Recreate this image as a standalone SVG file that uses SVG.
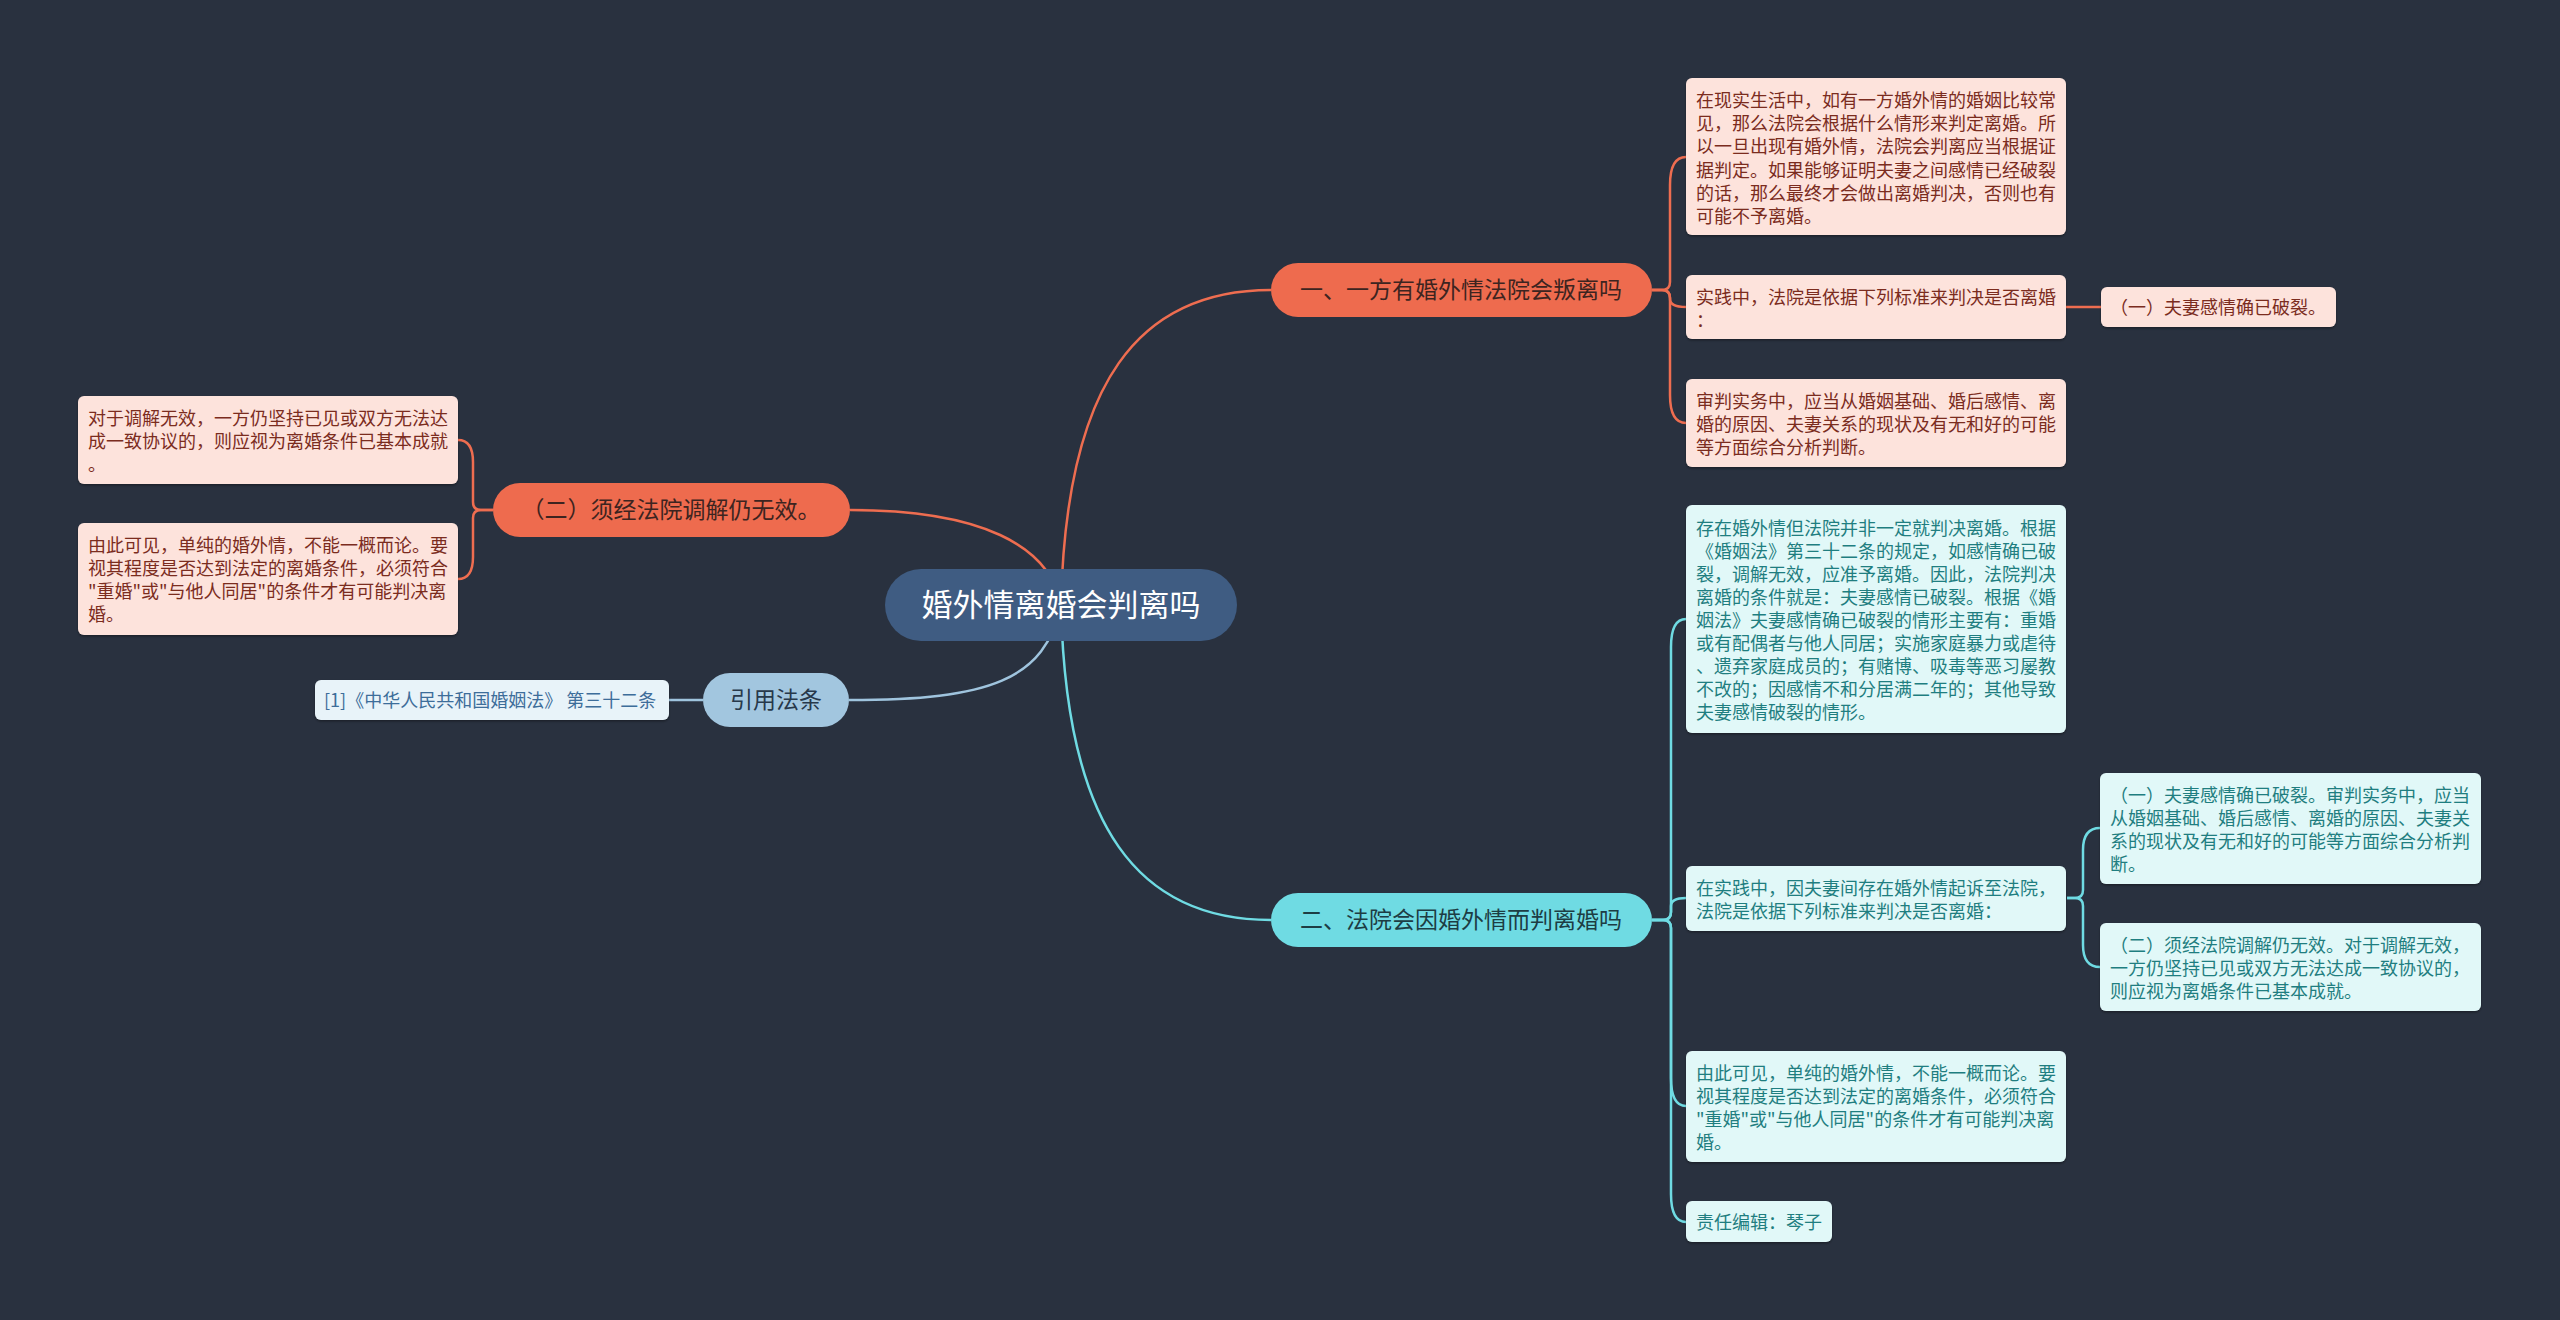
<svg xmlns="http://www.w3.org/2000/svg" width="2560" height="1320" viewBox="0 0 2560 1320">
<style>
text{font-family:"Noto Sans CJK SC","Noto Sans",sans-serif}
.bg{fill:#29313f}
.con{fill:none;stroke-width:2.5}
.o{stroke:#ee6d50}
.c{stroke:#6fdbe3}
.b{stroke:#9fc4de}
.ob{fill:#fde3dc;filter:url(#sh)}
.ot{fill:#7b2c1e;font-size:18px}
.cb{fill:#e1f8f8;filter:url(#sh)}
.ct{fill:#1f7e80;font-size:18px}
.rb{fill:#e8f3f9;filter:url(#sh)}
.rt{fill:#3d6d9a;font-size:18px}
.pt{font-size:23px;text-anchor:middle}
</style>
<defs>
<filter id="sh" x="-5%" y="-10%" width="110%" height="130%">
<feDropShadow dx="0" dy="1.5" stdDeviation="1" flood-color="#000000" flood-opacity="0.35"/>
</filter>
</defs>
<rect class="bg" x="0" y="0" width="2560" height="1320"/>
<g id="connectors">
<path class="con o" d="M1061,605 C1066,380 1140,290 1271,290"/>
<path class="con c" d="M1061,605 C1066,830 1140,920 1271,920"/>
<path class="con o" d="M1061,605 C1050,545 980,510 850,510"/>
<path class="con b" d="M1061,605 C1045,680 990,700 849,700"/>
<path class="con o" d="M1652,290 H1662 Q1670,290 1670,282 V185 Q1670,157 1686,157"/>
<path class="con o" d="M1652,290 H1662 Q1670,290 1670,298 V299 Q1670,307 1686,307"/>
<path class="con o" d="M1652,290 H1662 Q1670,290 1670,298 V395 Q1670,423 1686,423"/>
<path class="con o" d="M2066,307 H2101"/>
<path class="con c" d="M1652,920 H1663 Q1671,920 1671,912 V647 Q1671,619 1686,619"/>
<path class="con c" d="M1652,920 H1663 Q1671,920 1671,912 V906 Q1671,898 1686,898"/>
<path class="con c" d="M1652,920 H1663 Q1671,920 1671,928 V1078 Q1671,1106 1686,1106"/>
<path class="con c" d="M1652,920 H1663 Q1671,920 1671,928 V1194 Q1671,1222 1686,1222"/>
<path class="con c" d="M2067,898 H2075 Q2083,898 2083,890 V850 Q2083,828 2100,828"/>
<path class="con c" d="M2067,898 H2075 Q2083,898 2083,906 V945 Q2083,967 2100,967"/>
<path class="con o" d="M493,510 H481 Q473,510 473,502 V462 Q473,440 458,440"/>
<path class="con o" d="M493,510 H481 Q473,510 473,518 V557 Q473,579 458,579"/>
<path class="con b" d="M703,700 H669"/>
</g>
<g id="center">
<rect x="885" y="569" width="352" height="72" rx="36" fill="#3f5c82"/>
<text x="1061" y="616" font-size="31" fill="#ffffff" text-anchor="middle">婚外情离婚会判离吗</text>
</g>
<g id="branch1">
<rect x="1271" y="263" width="381" height="54" rx="27" fill="#ee6b4e"/>
<text class="pt" x="1461" y="298" fill="#3d2420">一、一方有婚外情法院会叛离吗</text>
</g>
<g id="branch2">
<rect x="1271" y="893" width="381" height="54" rx="27" fill="#6fdbe3"/>
<text class="pt" x="1461" y="928" fill="#1d3d44">二、法院会因婚外情而判离婚吗</text>
</g>
<g id="branch-left">
<rect x="493" y="483" width="357" height="54" rx="27" fill="#ee6b4e"/>
<text class="pt" x="671" y="518" fill="#3d2420">（二）须经法院调解仍无效。</text>
</g>
<g id="branch-ref">
<rect x="703" y="673" width="146" height="54" rx="27" fill="#a2c6df"/>
<text class="pt" x="776" y="708" fill="#27384a">引用法条</text>
</g>
<g id="boxA">
<rect class="ob" x="1686" y="78" width="380" height="157" rx="6"/>
<text class="ot" x="1696" y="107">在现实生活中，如有一方婚外情的婚姻比较常</text>
<text class="ot" x="1696" y="130">见，那么法院会根据什么情形来判定离婚。所</text>
<text class="ot" x="1696" y="153">以一旦出现有婚外情，法院会判离应当根据证</text>
<text class="ot" x="1696" y="177">据判定。如果能够证明夫妻之间感情已经破裂</text>
<text class="ot" x="1696" y="200">的话，那么最终才会做出离婚判决，否则也有</text>
<text class="ot" x="1696" y="223">可能不予离婚。</text>
</g>
<g id="boxB">
<rect class="ob" x="1686" y="275" width="380" height="64" rx="6"/>
<text class="ot" x="1696" y="304">实践中，法院是依据下列标准来判决是否离婚</text>
<text class="ot" x="1696" y="327">：</text>
</g>
<g id="boxC">
<rect class="ob" x="2101" y="287" width="235" height="40" rx="6"/>
<text class="ot" x="2110" y="314">（一）夫妻感情确已破裂。</text>
</g>
<g id="boxD">
<rect class="ob" x="1686" y="379" width="380" height="88" rx="6"/>
<text class="ot" x="1696" y="408">审判实务中，应当从婚姻基础、婚后感情、离</text>
<text class="ot" x="1696" y="431">婚的原因、夫妻关系的现状及有无和好的可能</text>
<text class="ot" x="1696" y="454">等方面综合分析判断。</text>
</g>
<g id="boxE">
<rect class="cb" x="1686" y="505" width="380" height="228" rx="6"/>
<text class="ct" x="1696" y="535">存在婚外情但法院并非一定就判决离婚。根据</text>
<text class="ct" x="1696" y="558">《婚姻法》第三十二条的规定，如感情确已破</text>
<text class="ct" x="1696" y="581">裂，调解无效，应准予离婚。因此，法院判决</text>
<text class="ct" x="1696" y="604">离婚的条件就是：夫妻感情已破裂。根据《婚</text>
<text class="ct" x="1696" y="627">姻法》夫妻感情确已破裂的情形主要有：重婚</text>
<text class="ct" x="1696" y="650">或有配偶者与他人同居；实施家庭暴力或虐待</text>
<text class="ct" x="1696" y="673">、遗弃家庭成员的；有赌博、吸毒等恶习屡教</text>
<text class="ct" x="1696" y="696">不改的；因感情不和分居满二年的；其他导致</text>
<text class="ct" x="1696" y="719">夫妻感情破裂的情形。</text>
</g>
<g id="boxF">
<rect class="cb" x="1686" y="866" width="380" height="65" rx="6"/>
<text class="ct" x="1696" y="895">在实践中，因夫妻间存在婚外情起诉至法院，</text>
<text class="ct" x="1696" y="918">法院是依据下列标准来判决是否离婚：</text>
</g>
<g id="boxG">
<rect class="cb" x="2100" y="773" width="381" height="111" rx="6"/>
<text class="ct" x="2110" y="802">（一）夫妻感情确已破裂。审判实务中，应当</text>
<text class="ct" x="2110" y="825">从婚姻基础、婚后感情、离婚的原因、夫妻关</text>
<text class="ct" x="2110" y="848">系的现状及有无和好的可能等方面综合分析判</text>
<text class="ct" x="2110" y="871">断。</text>
</g>
<g id="boxH">
<rect class="cb" x="2100" y="923" width="381" height="88" rx="6"/>
<text class="ct" x="2110" y="952">（二）须经法院调解仍无效。对于调解无效，</text>
<text class="ct" x="2110" y="975">一方仍坚持已见或双方无法达成一致协议的，</text>
<text class="ct" x="2110" y="998">则应视为离婚条件已基本成就。</text>
</g>
<g id="boxI">
<rect class="cb" x="1686" y="1051" width="380" height="111" rx="6"/>
<text class="ct" x="1696" y="1080">由此可见，单纯的婚外情，不能一概而论。要</text>
<text class="ct" x="1696" y="1103">视其程度是否达到法定的离婚条件，必须符合</text>
<text class="ct" x="1696" y="1126">"重婚"或"与他人同居"的条件才有可能判决离</text>
<text class="ct" x="1696" y="1149">婚。</text>
</g>
<g id="boxJ">
<rect class="cb" x="1686" y="1201" width="146" height="41" rx="6"/>
<text class="ct" x="1696" y="1229">责任编辑：琴子</text>
</g>
<g id="boxL1">
<rect class="ob" x="78" y="396" width="380" height="88" rx="6"/>
<text class="ot" x="88" y="425">对于调解无效，一方仍坚持已见或双方无法达</text>
<text class="ot" x="88" y="448">成一致协议的，则应视为离婚条件已基本成就</text>
<text class="ot" x="88" y="471">。</text>
</g>
<g id="boxL2">
<rect class="ob" x="78" y="523" width="380" height="112" rx="6"/>
<text class="ot" x="88" y="552">由此可见，单纯的婚外情，不能一概而论。要</text>
<text class="ot" x="88" y="575">视其程度是否达到法定的离婚条件，必须符合</text>
<text class="ot" x="88" y="598">"重婚"或"与他人同居"的条件才有可能判决离</text>
<text class="ot" x="88" y="621">婚。</text>
</g>
<g id="boxRef">
<rect class="rb" x="315" y="680" width="354" height="40" rx="6"/>
<text class="rt" x="324" y="707">[1]《中华人民共和国婚姻法》 第三十二条</text>
</g>
</svg>
